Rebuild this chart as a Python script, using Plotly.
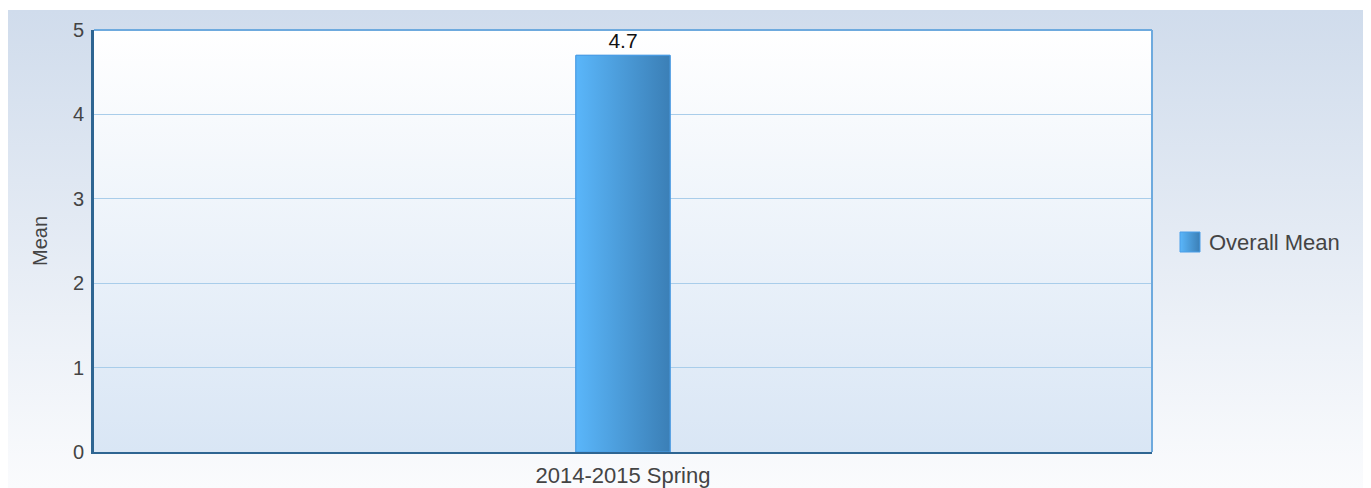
import base64
import plotly.graph_objects as go

categories = ["2014-2015 Spring"]
means = [4.7]
series_name = "Overall Mean"
y_ticks = [0, 1, 2, 3, 4, 5]

W, H = 1360, 480          # page body adds 8px offset
L, R, T, B = 86, 216, 22, 36
PW = W - L - R
PH = H - T - B
bar_w = 0.089


def svg_grad(c1, c2, vertical=True):
    x2, y2 = ("0", "1") if vertical else ("1", "0")
    svg = ('<svg xmlns="http://www.w3.org/2000/svg" width="100" height="100" preserveAspectRatio="none">'
           '<defs><linearGradient id="g" x1="0" y1="0" x2="%s" y2="%s">'
           '<stop offset="0" stop-color="%s"/><stop offset="1" stop-color="%s"/>'
           '</linearGradient></defs><rect width="100" height="100" fill="url(#g)"/></svg>') % (x2, y2, c1, c2)
    return "data:image/svg+xml;base64," + base64.b64encode(svg.encode()).decode()


fig = go.Figure()
xs = list(range(len(categories)))

fig.add_trace(go.Bar(
    x=xs, y=means, width=bar_w, name=series_name,
    marker=dict(color="#4a9ee0", line=dict(color="#3f8fd0", width=1)),
    text=[f"{v:.1f}" for v in means], textposition="outside",
    textfont=dict(color="#111111", size=21, family="Liberation Sans"),
    cliponaxis=False, showlegend=False,
))

for xi, v in zip(xs, means):
    fig.add_trace(go.Scatter(
        x=[xi - bar_w / 2, xi + bar_w / 2, xi + bar_w / 2, xi - bar_w / 2, xi - bar_w / 2],
        y=[0, 0, v, v, 0], mode="lines", fill="toself",
        line=dict(color="#4a9ee8", width=1),
        fillgradient=dict(type="horizontal",
                          colorscale=[[0, "#5ab6fa"], [1, "#3b7fb6"]]),
        showlegend=False, hoverinfo="skip",
    ))

images = [
    dict(source=svg_grad("#d0dcec", "#fafbfd"), xref="paper", yref="paper",
         x=-L / PW, y=1 + (T - 2) / PH, sizex=W / PW, sizey=(H - 2) / PH,
         sizing="stretch", layer="below", xanchor="left", yanchor="top"),
    dict(source=svg_grad("#ffffff", "#d9e6f5"), xref="paper", yref="paper",
         x=0, y=1, sizex=1, sizey=1, sizing="stretch", layer="below",
         xanchor="left", yanchor="top"),
    dict(source=svg_grad("#5ab6fa", "#3b7fb6", vertical=False), xref="paper", yref="paper",
         x=(1180 - 8 - L) / PW, y=1 - (232 - 8 - T) / PH, sizex=20 / PW, sizey=20 / PH,
         sizing="stretch", layer="above", xanchor="left", yanchor="top"),
]

shapes = [
    dict(type="line", xref="x domain", yref="y domain", x0=0, x1=1, y0=1, y1=1,
         line=dict(color="#6eaade", width=2)),
    dict(type="line", xref="x domain", yref="y domain", x0=1, x1=1, y0=0, y1=1,
         line=dict(color="#6eaade", width=2)),
    dict(type="rect", xref="paper", yref="paper",
         x0=(1180 - 8 - L) / PW, x1=(1200 - 8 - L) / PW,
         y0=1 - (252 - 8 - T) / PH, y1=1 - (232 - 8 - T) / PH,
         line=dict(color="#4a9ee8", width=1), fillcolor="rgba(0,0,0,0)"),
]

annotations = [
    dict(text=series_name, xref="paper", yref="paper",
         x=(1207 - 8 - L) / PW, y=1 - (242 - 8 - T) / PH, xanchor="left", yanchor="middle",
         showarrow=False, font=dict(size=22, color="#444444")),
]

fig.update_layout(
    width=W, height=H,
    margin=dict(l=L, r=R, t=T, b=B, autoexpand=False),
    paper_bgcolor="white", plot_bgcolor="rgba(0,0,0,0)",
    font=dict(family="Liberation Sans, Arial, sans-serif", size=20, color="#444444"),
    shapes=shapes, images=images, annotations=annotations,
    showlegend=False,
    xaxis=dict(range=[-0.5, 0.5], tickvals=xs, ticktext=categories, showgrid=False,
               showline=True, linecolor="#2e6592", linewidth=2, ticks="",
               zeroline=False, fixedrange=True, automargin=False,
               tickfont=dict(size=22), ticklabelstandoff=3),
    yaxis=dict(range=[0, 5], tickvals=y_ticks, showgrid=True, gridcolor="#a9cdea",
               gridwidth=1, showline=True, linecolor="#2e6592", linewidth=3,
               zeroline=False, ticks="", ticklen=0, automargin=False,
               tickfont=dict(size=20), ticklabelstandoff=3,
               title=dict(text="Mean", font=dict(size=20, color="#444444"), standoff=20)),
)

fig.write_html("out.html")
